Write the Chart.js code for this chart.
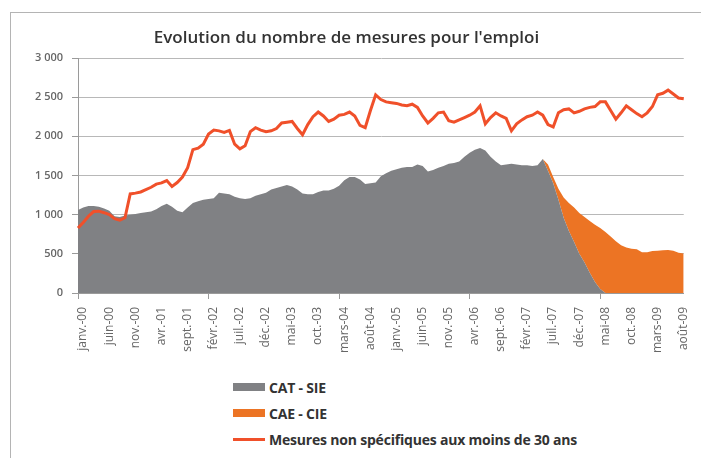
<!DOCTYPE html>
<html lang="fr">
<head>
<meta charset="UTF-8">
<title>Evolution du nombre de mesures pour l'emploi</title>
<script src="https://cdn.jsdelivr.net/npm/chart.js"></script>
<style>
  body { margin: 0; background: #fff; font-family: "Open Sans", sans-serif; }
  .frame { position: absolute; left: 10px; top: 12px; width: 700px; height: 460px;
           border-left: 1px solid #b4b4b4; border-top: 1px solid #b4b4b4; }
  .chart-box { position: absolute; left: 0; top: 0; width: 701px; height: 372px; }
  #legend { position: absolute; left: 233px; top: 374px; list-style: none; margin: 0; padding: 0; }
  #legend li { display: flex; align-items: center; height: 26px; font-weight: 700;
               font-size: 14px; color: #333; letter-spacing: -0.2px; }
  #legend .sw { width: 32px; margin-right: 4px; }
</style>
</head>
<body>
<div class="frame"></div>
<div class="chart-box"><canvas id="mesures"></canvas></div>
<ul id="legend"></ul>

<script>
// mois de janv.-00 à sept.-09
const moisNoms = ["janv.", "févr.", "mars", "avr.", "mai", "juin", "juil.", "août", "sept.", "oct.", "nov.", "déc."];
const mois = [];
for (let a = 0; a <= 9; a++) {
  for (let m = 0; m < 12; m++) {
    if (a === 9 && m > 8) break;
    mois.push(moisNoms[m] + "-0" + a);
  }
}

const catSie = [
  1060, 1090, 1110, 1110, 1100, 1080, 1050, 980, 970, 990,
  1000, 1010, 1020, 1030, 1040, 1070, 1110, 1140, 1100, 1050,
  1030, 1090, 1150, 1170, 1190, 1200, 1210, 1280, 1270, 1260,
  1230, 1210, 1200, 1210, 1240, 1260, 1280, 1320, 1340, 1360,
  1380, 1360, 1320, 1270, 1260, 1260, 1290, 1310, 1310, 1330,
  1370, 1440, 1480, 1480, 1450, 1390, 1400, 1410, 1490, 1530,
  1560, 1580, 1600, 1610, 1610, 1640, 1620, 1550, 1570, 1600,
  1620, 1650, 1660, 1680, 1740, 1790, 1830, 1850, 1820, 1740,
  1680, 1630, 1640, 1650, 1640, 1630, 1630, 1620, 1630, 1710,
  1560, 1400, 1190, 960, 790, 650, 500, 390, 260, 140,
  50, 0, 0, 0, 0, 0, 0, 0, 0, 0,
  0, 0, 0, 0, 0, 0, 0
];

const caeCie = [
  0, 0, 0, 0, 0, 0, 0, 0, 0, 0,
  0, 0, 0, 0, 0, 0, 0, 0, 0, 0,
  0, 0, 0, 0, 0, 0, 0, 0, 0, 0,
  0, 0, 0, 0, 0, 0, 0, 0, 0, 0,
  0, 0, 0, 0, 0, 0, 0, 0, 0, 0,
  0, 0, 0, 0, 0, 0, 0, 0, 0, 0,
  0, 0, 0, 0, 0, 0, 0, 0, 0, 0,
  0, 0, 0, 0, 0, 0, 0, 0, 0, 0,
  0, 0, 0, 0, 0, 0, 0, 0, 0, 0,
  80, 80, 140, 260, 360, 440, 520, 580, 660, 730,
  780, 780, 720, 660, 610, 580, 565, 560, 520, 520,
  535, 540, 545, 550, 540, 515, 505
];

const nonSpecifiques = [
  830, 900, 980, 1040, 1045, 1025, 1000, 950, 930, 960,
  1265, 1275, 1290, 1320, 1350, 1390, 1405, 1435, 1360, 1410,
  1480, 1600, 1830, 1850, 1900, 2030, 2080, 2070, 2050, 2075,
  1900, 1840, 1880, 2060, 2110, 2080, 2060, 2070, 2100, 2170,
  2180, 2190, 2100, 2020, 2150, 2250, 2310, 2260, 2190, 2220,
  2270, 2280, 2310, 2260, 2140, 2110, 2330, 2530, 2470, 2440,
  2430, 2420, 2400, 2390, 2410, 2370, 2260, 2170, 2230, 2300,
  2310, 2200, 2180, 2210, 2240, 2270, 2310, 2390, 2160, 2240,
  2300, 2260, 2230, 2070, 2160, 2210, 2250, 2270, 2310, 2270,
  2150, 2120, 2300, 2340, 2350, 2300, 2320, 2350, 2370, 2380,
  2440, 2440, 2330, 2220, 2300, 2390, 2340, 2290, 2250, 2300,
  2380, 2530, 2550, 2590, 2540, 2490, 2480
];

const yTicks = [0, 500, 1000, 1500, 2000, 2500, 3000];

const gris = "#808184";
const orange = "#ec7424";
const rouge = "#f0502a";

function milliers(v) {
  if (v < 1000) return String(v);
  return Math.floor(v / 1000) + " " + String(v % 1000).padStart(3, "0");
}

const chart = new Chart(document.getElementById("mesures"), {
  type: "line",
  data: {
    labels: mois,
    datasets: [
      {
        label: "CAT - SIE",
        data: catSie,
        stack: "contrats",
        fill: "origin",
        backgroundColor: gris,
        borderColor: gris,
        borderWidth: 0,
        pointRadius: 0,
        order: 1
      },
      {
        label: "CAE - CIE",
        data: caeCie,
        stack: "contrats",
        fill: "-1",
        backgroundColor: orange,
        borderColor: orange,
        borderWidth: 0,
        pointRadius: 0,
        order: 1
      },
      {
        label: "Mesures non spécifiques aux moins de 30 ans",
        data: nonSpecifiques,
        stack: "autres",
        fill: false,
        borderColor: rouge,
        backgroundColor: rouge,
        borderWidth: 3,
        pointRadius: 0,
        order: 0
      }
    ]
  },
  options: {
    responsive: true,
    maintainAspectRatio: false,
    animation: false,
    layout: { padding: { left: 0, right: 8, top: 0, bottom: 0 } },
    plugins: {
      legend: { display: false },
      tooltip: { enabled: false },
      title: {
        display: true,
        text: "Evolution du nombre de mesures pour l'emploi",
        color: "#333",
        font: { family: "Open Sans", size: 17, weight: "600" },
        padding: { top: 28, bottom: 9.6 }
      }
    },
    scales: {
      x: {
        ticks: {
          autoSkip: false,
          maxRotation: 90,
          minRotation: 90,
          labelOffset: 5,
          padding: 8,
          color: "#666",
          font: { family: "Open Sans", size: 12 },
          callback: (v, i) => (i % 5 === 0 ? mois[i] : null)
        },
        grid: {
          drawOnChartArea: false,
          tickLength: 6,
          tickColor: ctx => (ctx.index % 5 === 0 ? "#9a9a9a" : "rgba(0,0,0,0)")
        },
        border: { color: "#9a9a9a" },
        afterFit: s => { s.height = 79; }
      },
      y: {
        stacked: true,
        min: 0,
        max: 3000,
        afterBuildTicks: s => { s.ticks = yTicks.map(v => ({ value: v })); },
        ticks: {
          padding: 9,
          color: "#666",
          font: { family: "Open Sans", size: 11, weight: "600" },
          callback: v => milliers(v)
        },
        grid: { color: "#b8b8b8", tickLength: 6, tickColor: "#9a9a9a" },
        border: { color: "#9a9a9a" },
        afterFit: s => { s.width = 78; }
      }
    }
  }
});

// légende verticale
const legend = document.getElementById("legend");
chart.data.datasets.forEach(ds => {
  const li = document.createElement("li");
  const sw = document.createElement("span");
  sw.className = "sw";
  if (ds.fill === false) {
    sw.style.height = "3px";
    sw.style.background = ds.borderColor;
  } else {
    sw.style.height = "8px";
    sw.style.background = ds.backgroundColor;
  }
  li.appendChild(sw);
  li.appendChild(document.createTextNode(ds.label));
  legend.appendChild(li);
});
</script>
</body>
</html>
